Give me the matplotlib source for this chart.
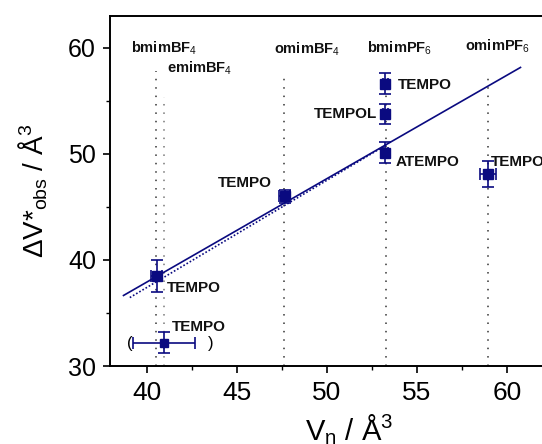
import numpy as np
import matplotlib
matplotlib.use("Agg")
import matplotlib.pyplot as plt
from matplotlib.ticker import MultipleLocator

plt.rcParams.update({
    "font.family": ["Liberation Sans", "DejaVu Sans"],
    "mathtext.fontset": "custom",
    "mathtext.rm": "Liberation Sans",
    "mathtext.it": "Liberation Sans:italic",
})

NAVY = "#0a0a80"

# data points: V_eta, dV*obs and errors
vx = [40.55, 47.65, 53.25, 53.25, 53.25, 58.95]
vy = [38.5, 46.0, 56.6, 53.8, 50.1, 48.1]
xerr = [0.3, 0.3, 0.15, 0.15, 0.15, 0.45]
yerr = [1.5, 0.6, 1.0, 0.95, 1.0, 1.2]

# excluded point (in parentheses)
px, py, pxerr, pyerr = 40.95, 32.2, 1.72, 1.0

# fits
fit_x = [38.7, 60.75]
fit_y = [36.65, 58.15]
fit2_x = [39.05, 53.3]
fit2_y = [36.45, 50.85]

# ionic liquids: position, line top, label x, label y
il_names = ["bmimBF$_4$", "emimBF$_4$", "omimBF$_4$", "bmimPF$_6$", "omimPF$_6$"]
il_x = [40.52, 40.94, 47.62, 53.28, 58.95]
il_top = [57.8, 55.4, 57.4, 57.6, 57.5]
il_lx = [40.95, 42.9, 48.9, 54.05, 59.5]
il_ly = [60.0, 58.1, 59.9, 60.0, 60.1]
il_col = ["#333333", "#777777", "#333333", "#333333", "#333333"]

# probe labels
lab_txt = ["TEMPO", "TEMPO", "TEMPO", "TEMPOL", "ATEMPO", "TEMPO", "TEMPO"]
lab_x = [41.1, 46.95, 53.95, 52.8, 53.8, 59.1, 41.4]
lab_y = [37.4, 47.3, 56.5, 53.75, 49.2, 49.2, 33.7]
lab_ha = ["left", "right", "left", "right", "left", "left", "left"]

fig = plt.figure(figsize=(5.42, 4.44), dpi=100)
ax = fig.add_axes([110 / 542, 78 / 444, 478 / 542, 350 / 444])

for x, top, c in zip(il_x, il_top, il_col):
    ax.plot([x, x], [30, top], color=c, lw=1.1, dashes=(1, 4.5), zorder=1)
for name, x, y in zip(il_names, il_lx, il_ly):
    ax.text(x, y, name, ha="center", va="center", fontsize=10.5,
            fontweight="bold", color="#111111")

ax.plot(fit_x, fit_y, color=NAVY, lw=1.2, zorder=2)
ax.plot(fit2_x, fit2_y, color=NAVY, lw=1.2, dashes=(1, 1.2), zorder=2)

ax.errorbar(vx, vy, xerr=xerr, yerr=yerr, fmt="s", color=NAVY, ms=7,
            elinewidth=1.2, capsize=4, capthick=1.2, zorder=3)
ax.errorbar([px], [py], xerr=[pxerr], yerr=[pyerr], fmt="s", color=NAVY,
            ms=6, elinewidth=1.2, capsize=4, capthick=1.2, zorder=3)
ax.text(39.05, 32.1, "(", ha="center", va="center", fontsize=12)
ax.text(43.55, 32.1, ")", ha="center", va="center", fontsize=12)

for t, x, y, ha in zip(lab_txt, lab_x, lab_y, lab_ha):
    ax.text(x, y, t, ha=ha, va="center", fontsize=11, fontweight="bold",
            color="#111111")

ax.set_xlim(37.95, 64.5)
ax.set_ylim(30, 63)
ax.xaxis.set_major_locator(MultipleLocator(5))
ax.xaxis.set_minor_locator(MultipleLocator(2.5))
ax.yaxis.set_major_locator(MultipleLocator(10))
ax.yaxis.set_minor_locator(MultipleLocator(5))
ax.tick_params(which="major", direction="out", length=5, width=1.2,
               labelsize=18, top=False, right=False)
ax.tick_params(axis="x", which="major", pad=6, labelsize=19)
ax.tick_params(axis="y", which="major", pad=5)
ax.tick_params(which="minor", direction="out", length=3, width=1.0,
               top=False, right=False)
for s in ax.spines.values():
    s.set_linewidth(1.4)

ax.set_ylabel(r"$\Delta$V*$_{\rm obs}$ / Å$^3$", fontsize=20, labelpad=13)
ax.set_xlabel("V$_\\mathregular{η}$ / Å$^3$", fontsize=21, labelpad=5)

fig.savefig("out.png", dpi=100)
